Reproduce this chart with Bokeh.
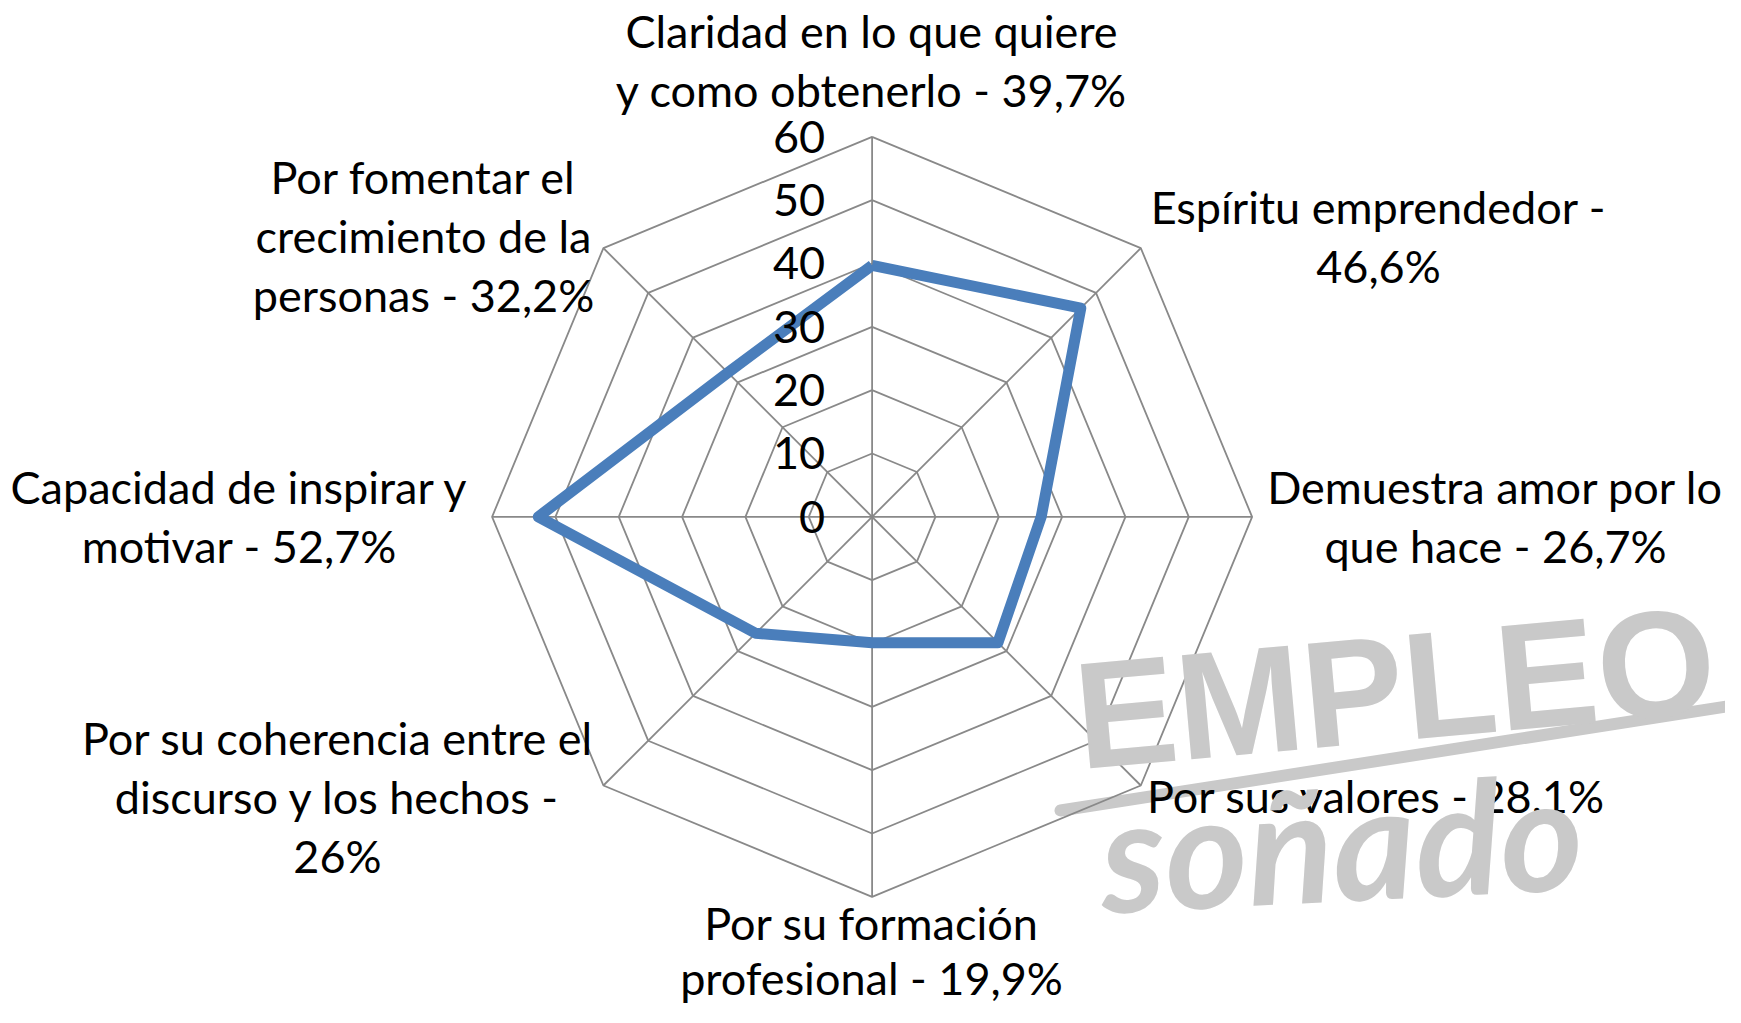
import numpy as np
from bokeh.plotting import figure
from bokeh.models import Range1d, Label
from bokeh.core.properties import value
from bokeh.embed import file_html
from bokeh.resources import INLINE

# ---------------- data ----------------
categories = [
    "Claridad en lo que quiere\ny como obtenerlo - 39,7%",
    "Espíritu emprendedor -\n46,6%",
    "Demuestra amor por lo\nque hace - 26,7%",
    "Por sus valores - 28,1%",
    "Por su formación\nprofesional - 19,9%",
    "Por su coherencia entre el\ndiscurso y los hechos -\n26%",
    "Capacidad de inspirar y\nmotivar - 52,7%",
    "Por fomentar el\ncrecimiento de la\npersonas - 32,2%",
]
values = [39.7, 46.6, 26.7, 28.1, 19.9, 26.0, 52.7, 32.2]
ticks = [0, 10, 20, 30, 40, 50, 60]

# ---------------- layout (pixels of the picture) ----------------
W, H = 1725, 1007
CX, CY = 871.6, 516.3          # radar centre
S = 380.0 / 60.0               # px per value unit
FONT = "Lato"
FS = "45px"
LINE_GAP = 59.0

def px(xf, yf):
    """picture pixel -> data coords"""
    return (xf - CX) / S, (CY - yf) / S

# label anchor (centre x, first line centre y, line gap) in pixels
label_pos = [(871, 30, 59), (1378, 206.5, 59), (1495, 486, 59), (1376, 795, 59),
             (871, 922, 55), (337, 737, 59), (239, 486, 59), (423, 176.5, 59)]

p = figure(width=W, height=H, output_backend="svg", toolbar_location=None,
           x_range=Range1d(-CX / S, (W - CX) / S),
           y_range=Range1d(-(H - CY) / S, CY / S),
           min_border=0)
p.axis.visible = False
p.grid.visible = False
p.outline_line_color = None
p.background_fill_color = "white"
p.border_fill_color = "white"

# ---------------- watermark ----------------
wm = "#c9c9c9"
sx0, sy0 = px(1060, 810)
sx1, sy1 = px(1745, 703)
p.line([sx0, sx1], [sy0, sy1], line_color=wm, line_width=12, line_cap="round")
ex, ey = px(1075, 716)
p.add_layout(Label(x=ex, y=ey, text="EMPLEO", angle=0.09, text_align="left",
                   text_baseline="middle", text_color=wm,
                   text_font="Liberation Sans", text_font_style="bold",
                   text_font_size="152px"))
sx, sy = px(1100, 852)
p.add_layout(Label(x=sx, y=sy, text="soñado", angle=0.05, text_align="left",
                   text_baseline="middle", text_color=wm,
                   text_font="Lato", text_font_style="bold italic",
                   text_font_size="158px"))

# ---------------- grid ----------------
n = len(categories)
ang = np.pi / 2 - np.arange(n) * 2 * np.pi / n
grid_col = "#898989"
for t in ticks[1:]:
    xs = list(t * np.cos(ang)) + [t * np.cos(ang[0])]
    ys = list(t * np.sin(ang)) + [t * np.sin(ang[0])]
    p.line(xs, ys, line_color=grid_col, line_width=1.8)
R = ticks[-1]
p.segment(x0=[0] * n, y0=[0] * n, x1=list(R * np.cos(ang)), y1=list(R * np.sin(ang)),
          line_color=grid_col, line_width=1.8)

# ---------------- series ----------------
v = np.array(values)
vx = list(v * np.cos(ang)) + [v[0] * np.cos(ang[0])]
vy = list(v * np.sin(ang)) + [v[0] * np.sin(ang[0])]
p.line(vx, vy, line_color="#4a7ebb", line_width=11, line_join="round")

# ---------------- tick labels ----------------
tx = -47.0 / S
p.text(x=[tx] * len(ticks), y=ticks, text=[str(t) for t in ticks],
       text_align="right", text_baseline="middle", text_color="black",
       text_font=value(FONT), text_font_size=FS)

# ---------------- category labels ----------------
lx, ly, lt = [], [], []
for cat, (xc, yc, gap) in zip(categories, label_pos):
    for i, line in enumerate(cat.split("\n")):
        dx, dy = px(xc, yc + i * gap)
        lx.append(dx); ly.append(dy); lt.append(line)
p.text(x=lx, y=ly, text=lt, text_align="center", text_baseline="middle",
       text_color="black", text_font=value(FONT), text_font_size=FS)

open("out.html", "w").write(file_html(p, INLINE))
